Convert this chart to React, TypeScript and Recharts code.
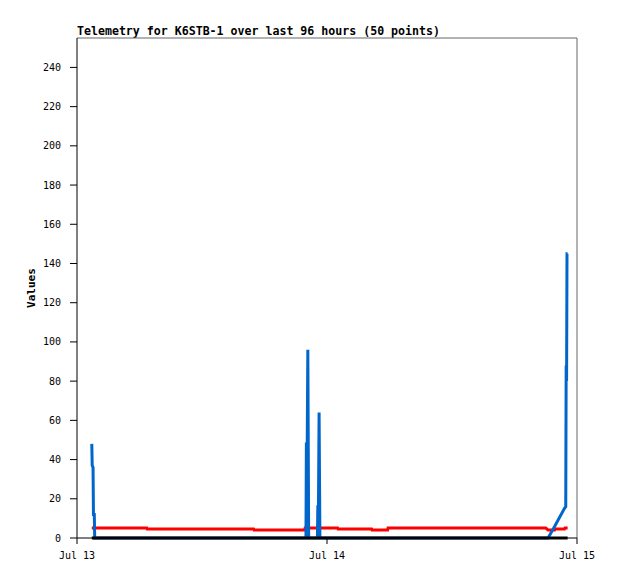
import { LineChart, Line, XAxis, YAxis, ReferenceLine, Label } from 'recharts';

// hours since Jul 13 00:00
const hours = [
  1.42, 1.46, 1.54, 1.58, 1.66, 1.7, 3.5, 6.7, 6.74, 10.5,
  12.0, 14.0, 16.95, 17.0, 19.5, 21.85, 21.9, 21.98, 22.02, 22.1,
  22.16, 22.24, 23.08, 23.12, 23.18, 23.24, 23.32, 25.02, 25.06, 27.0,
  28.28, 28.32, 29.82, 29.86, 33.0, 36.5, 38.0, 40.0, 43.0, 45.0,
  45.22, 45.85, 45.9, 46.8, 46.85, 46.92, 46.96, 47.0, 47.04, 47.1,
];

const blueValues = [
  48, 37, 36, 12, 12, 0, 0, 0, 0, 0,
  0, 0, 0, 0, 0, 0, 0, 0, 48, 48,
  96, 0, 0, 16, 16, 64, 0, 0, 0, 0,
  0, 0, 0, 0, 0, 0, 0, 0, 0, 0,
  0, 5.9, 6.4, 15.1, 15.5, 16, 88, 80, 145, 145,
];

const redValues = [
  5.1, 5.1, 5.1, 5.1, 5.1, 5.1, 5.1, 5.1, 4.6, 4.6,
  4.6, 4.6, 4.6, 4.1, 4.1, 4.1, 5.1, 5.1, 5.1, 5.1,
  5.1, 5.1, 5.1, 5.1, 5.1, 5.1, 5.1, 5.1, 4.6, 4.6,
  4.6, 4.1, 4.1, 5.1, 5.1, 5.1, 5.1, 5.1, 5.1, 5.1,
  4.1, 4.1, 4.6, 4.6, 5.1, 5.1, 5.1, 5.1, 5.1, 5.1,
];

const blackValues = hours.map(() => 0);

const xTicks = [0, 24, 48];
const xTickLabels = ['Jul 13', 'Jul 14', 'Jul 15'];
const yTicks = [0, 20, 40, 60, 80, 100, 120, 140, 160, 180, 200, 220, 240];

const data = hours.map((t, i) => ({
  t,
  blue: blueValues[i],
  red: redValues[i],
  black: blackValues[i],
}));

const mono = '"DejaVu Sans Mono", monospace';

export default function App() {
  return (
    <div style={{ position: 'absolute', left: 0, top: 0, width: 618, height: 579, background: '#fff' }}>
      <div
        style={{
          position: 'absolute',
          left: 77,
          top: 24,
          fontFamily: mono,
          fontWeight: 'bold',
          fontSize: 11.6,
          lineHeight: '14px',
          whiteSpace: 'pre',
        }}
      >
        Telemetry for K6STB-1 over last 96 hours (50 points)
      </div>
      <LineChart width={618} height={579} data={data} margin={{ top: 38, right: 41, bottom: 0, left: 0 }}>
        <XAxis
          dataKey="t"
          type="number"
          domain={[0, 48]}
          ticks={xTicks}
          tickFormatter={(v: number) => xTickLabels[xTicks.indexOf(v)]}
          height={41}
          tickSize={6}
          tickMargin={8}
          stroke="#000"
          tick={{ fill: '#000', fontSize: 10, fontFamily: mono }}
        />
        <YAxis
          type="number"
          domain={[0, 255]}
          ticks={yTicks}
          width={77}
          tickSize={7}
          tickMargin={9}
          stroke="#000"
          tick={{ fill: '#000', fontSize: 10, fontFamily: mono }}
        >
          <Label
            value="Values"
            angle={-90}
            position="insideLeft"
            offset={31}
            style={{ fontFamily: mono, fontWeight: 'bold', fontSize: 11, fill: '#000', textAnchor: 'middle' }}
          />
        </YAxis>
        <ReferenceLine y={255} stroke="#666" strokeWidth={1} />
        <ReferenceLine x={48} stroke="#666" strokeWidth={1} />
        <Line dataKey="red" type="linear" stroke="#ff0000" strokeWidth={3} dot={false} isAnimationActive={false} />
        <Line dataKey="blue" type="linear" stroke="#0066cc" strokeWidth={3} dot={false} isAnimationActive={false} />
        <Line dataKey="black" type="linear" stroke="#000000" strokeWidth={3} dot={false} isAnimationActive={false} />
      </LineChart>
    </div>
  );
}
